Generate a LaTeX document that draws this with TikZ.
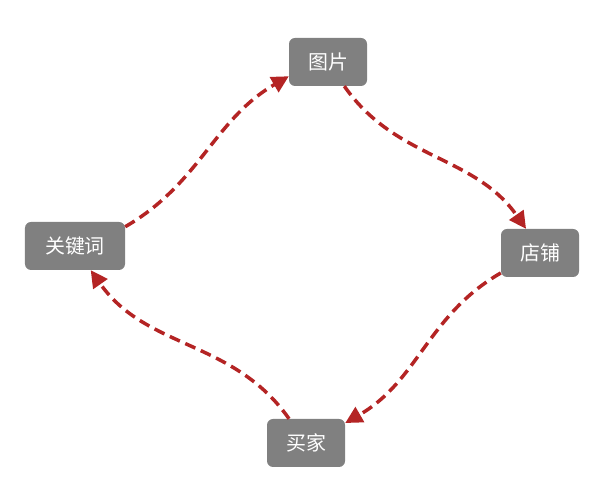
\documentclass[tikz,border=0pt]{standalone}
\usepackage{xcolor}
\usepackage{fontspec}
\newfontfamily\cjk{Noto Sans CJK SC}
\usepackage{tikz}
\usetikzlibrary{arrows.meta}

\definecolor{boxgray}{RGB}{128,128,128}
\definecolor{linkred}{RGB}{180,36,36}

\begin{document}
\begin{tikzpicture}[x=1bp,y=1bp,
	word/.style={fill=boxgray,text=white,rounded corners=6bp,inner sep=0pt,
		minimum width=78bp,minimum height=48bp,font=\cjk\fontsize{20}{20}\selectfont},
	link/.style={draw=linkred,line width=3.5bp,dash pattern=on 11bp off 6bp,
		-{Triangle[length=17bp,width=17bp]}}]
		\useasboundingbox (0,0) rectangle (615,493);
		
		\node[word,minimum width=100bp] (kw) at (75,247) {关键词};
		\node[word] (pic) at (328,431) {图片};
		\node[word] (shop) at (540,240) {店铺};
		\node[word] (buyer) at (306,50) {买家};
		
		\draw[link] (kw.21) to [out=30,in=210] (pic.200);
		\draw[link] (pic.-56) to [out=-55,in=125] (shop.120);
		\draw[link] (shop.207) to [out=210,in=30] (buyer.27);
		\draw[link] (buyer.125) to [out=125,in=-55] (kw.-57);
		\end{tikzpicture}
\end{document}
